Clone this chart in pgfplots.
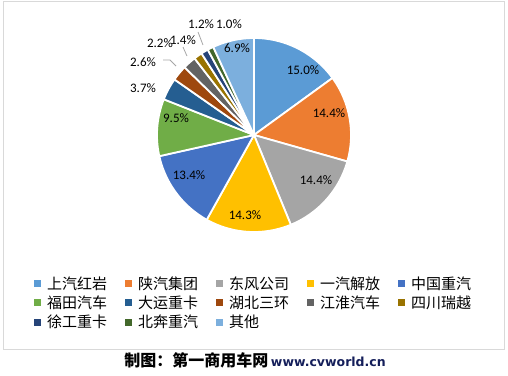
\documentclass[border=0pt]{standalone}
\usepackage{pgfplots}
\pgfplotsset{compat=1.18}
\usepackage{fontspec}
\setmainfont{Carlito}
\newfontfamily\cjk{Noto Sans CJK SC}
\newfontfamily\wwwfont{DejaVu Sans}
\definecolor{c1}{HTML}{5B9BD5}
\definecolor{c2}{HTML}{ED7D31}
\definecolor{c3}{HTML}{A5A5A5}
\definecolor{c4}{HTML}{FFC000}
\definecolor{c5}{HTML}{4472C4}
\definecolor{c6}{HTML}{70AD47}
\definecolor{c7}{HTML}{255E91}
\definecolor{c8}{HTML}{9E480E}
\definecolor{c9}{HTML}{636363}
\definecolor{c10}{HTML}{997300}
\definecolor{c11}{HTML}{264478}
\definecolor{c12}{HTML}{43682B}
\definecolor{c13}{HTML}{7CAFDD}
\definecolor{navy}{RGB}{20,30,90}
% #1 cumulative share before slice, #2 share, #3 colour, #4 name
\newcommand{\slice}[4]{%
  \addplot[fill=#3, draw=white, line width=1.8pt, line join=round,
    domain={90-3.6*(#1+#2)}:{90-3.6*(#1)}, samples=60]
    ({cos(x)},{sin(x)}) -- (axis cs:0,0) -- cycle;
  \addlegendentry{#4}
}
\newcommand{\lbl}{\fontsize{13bp}{15bp}\selectfont}
\begin{document}
\begin{tikzpicture}
\useasboundingbox (-254bp,-241bp) rectangle (254bp,135bp);
\draw[color=black!15, line width=1bp] (-250bp,-214bp) rectangle (250bp,133bp);
\begin{axis}[at={(0,0)}, anchor=origin, x=97bp, y=97bp,
  xmin=-1.3, xmax=1.3, ymin=-1.3, ymax=1.3, hide axis, clip=false,
  legend columns=5, legend cell align=left,
  legend style={draw=none, fill=none, inner sep=0pt, outer sep=0pt,
    anchor=north west, at={(axis cs:-2.267,-1.46)},
    nodes={inner sep=0pt},
    font=\cjk\fontsize{15bp}{18bp}\selectfont,
    /tikz/every odd column/.append style={column sep=6bp},
    /tikz/every even column/.append style={column sep=18bp},
    row sep=5bp},
  legend image code/.code={\fill[#1, draw=none] (0bp,-3.5bp) rectangle (7bp,3.5bp);},
]
\slice{0}{15.0}{c1}{上汽红岩}
\slice{15.0}{14.4}{c2}{陕汽集团}
\slice{29.4}{14.4}{c3}{东风公司}
\slice{43.8}{14.3}{c4}{一汽解放}
\slice{58.1}{13.4}{c5}{中国重汽}
\slice{71.5}{9.5}{c6}{福田汽车}
\slice{81.0}{3.7}{c7}{大运重卡}
\slice{84.7}{2.6}{c8}{湖北三环}
\slice{87.3}{2.2}{c9}{江淮汽车}
\slice{89.5}{1.4}{c10}{四川瑞越}
\slice{90.9}{1.2}{c11}{徐工重卡}
\slice{92.1}{1.0}{c12}{北奔重汽}
\slice{93.1}{6.9}{c13}{其他}
\node[font=\lbl] at (axis cs:0.505,0.670) {15.0\%};
\node[font=\lbl] at (axis cs:0.773,0.227) {14.4\%};
\node[font=\lbl] at (axis cs:0.639,-0.464) {14.4\%};
\node[font=\lbl] at (axis cs:-0.093,-0.825) {14.3\%};
\node[font=\lbl] at (axis cs:-0.670,-0.412) {13.4\%};
\node[font=\lbl] at (axis cs:-0.804,0.175) {9.5\%};
\node[font=\lbl] at (axis cs:-1.144,0.485) {3.7\%};
\node[font=\lbl] at (axis cs:-1.144,0.753) {2.6\%};
\node[font=\lbl] at (axis cs:-0.969,0.948) {2.2\%};
\node[font=\lbl] at (axis cs:-0.732,0.979) {1.4\%};
\node[font=\lbl] at (axis cs:-0.546,1.140) {1.2\%};
\node[font=\lbl] at (axis cs:-0.258,1.140) {1.0\%};
\node[font=\lbl] at (axis cs:-0.175,0.897) {6.9\%};
\draw[black!35, line width=0.8bp] (axis cs:-0.938,0.773) -- (axis cs:-0.866,0.773) -- (axis cs:-0.804,0.711);
\draw[black!35, line width=0.8bp] (axis cs:-0.732,0.907) -- (axis cs:-0.691,0.814);
\draw[black!35, line width=0.8bp] (axis cs:-0.577,1.062) -- (axis cs:-0.526,0.928);
\end{axis}
\node[anchor=base, inner sep=0pt] at (1bp,-231bp)
  {\cjk\fontsize{16bp}{18bp}\selectfont\bfseries 制图：第一商用车网\,{\wwwfont\fontsize{12.5bp}{14bp}\selectfont\bfseries\color{navy}www.cvworld.cn}};
\end{tikzpicture}
\end{document}
